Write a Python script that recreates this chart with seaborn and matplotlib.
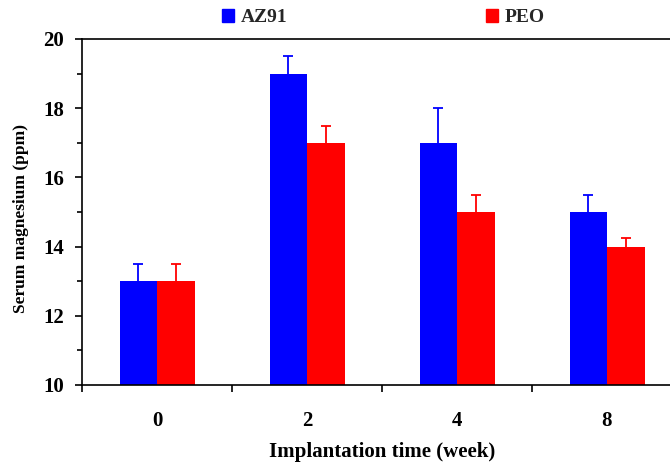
import pandas as pd
import numpy as np
import matplotlib
matplotlib.use("Agg")
import matplotlib.pyplot as plt
import matplotlib.patches as mpatches
from matplotlib.ticker import MultipleLocator, FixedLocator
import seaborn as sns

# ── data ──
weeks = ["0", "2", "4", "8"]
az91_mean = [13.0, 19.0, 17.0, 15.0]
az91_err = [0.5, 0.5, 1.0, 0.5]
peo_mean = [13.0, 17.0, 15.0, 14.0]
peo_err = [0.5, 0.5, 0.5, 0.25]
groups = ["AZ91", "PEO"]
colors = {"AZ91": "#0000FF", "PEO": "#FF0000"}

df = pd.DataFrame({
    "week": weeks * 2,
    "group": ["AZ91"] * len(weeks) + ["PEO"] * len(weeks),
    "mg": az91_mean + peo_mean,
})
errs = {"AZ91": az91_err, "PEO": peo_err}

sns.set_theme(style="white")
plt.rcParams["font.family"] = ["Liberation Serif", "DejaVu Serif"]
plt.rcParams["font.weight"] = "bold"

fig = plt.figure(figsize=(6.7, 4.66), dpi=100)
ax = fig.add_axes([82 / 670, 1 - 385 / 466, 600 / 670, 346 / 466])

sns.barplot(data=df, x="week", y="mg", hue="group", order=weeks,
            hue_order=groups, palette=colors, width=0.5, saturation=1,
            linewidth=0, legend=False, ax=ax)

# upward-only error bars in the bar colour (drop the lower cap)
for cont, g in zip(ax.containers, groups):
    xs = [p.get_x() + p.get_width() / 2 for p in cont.patches]
    ys = [p.get_height() + p.get_y() for p in cont.patches]
    e = errs[g]
    _, caps, _ = ax.errorbar(xs, ys, yerr=[np.zeros(len(e)), e], fmt="none",
                             ecolor=colors[g], elinewidth=1.3, capsize=3.8,
                             capthick=1.3)
    caps[0].set_visible(False)

ax.set_xlim(-0.5, 3.5)
ax.set_ylim(10, 20)
ax.yaxis.set_major_locator(MultipleLocator(2))
ax.yaxis.set_minor_locator(MultipleLocator(1))
ax.xaxis.set_minor_locator(FixedLocator(np.arange(-0.5, 4.0, 1.0)))

for s in ["left", "bottom", "top"]:
    ax.spines[s].set_visible(True)
    ax.spines[s].set_color("black")
    ax.spines[s].set_linewidth(1.2)
ax.spines["right"].set_visible(False)

ax.tick_params(axis="y", which="major", direction="out", length=5, width=1.2,
               color="black", left=True, pad=8, labelsize=15)
ax.tick_params(axis="y", which="minor", direction="out", length=3.5, width=1.2,
               color="black", left=True)
ax.tick_params(axis="x", which="major", length=0, pad=19, labelsize=15)
ax.tick_params(axis="x", which="minor", direction="out", length=5, width=1.2,
               color="black", bottom=True)

for lab in ax.get_xticklabels() + ax.get_yticklabels():
    lab.set_fontweight("bold")
    lab.set_color("black")

ax.set_xlabel("Implantation time (week)", fontsize=15, fontweight="bold",
              labelpad=8, color="black")
ax.set_ylabel("Serum magnesium (ppm)", fontsize=12.5, fontweight="bold",
              labelpad=12, color="black")
ax.yaxis.set_label_coords(-0.088, 0.48)
ax.grid(False)

handles = [mpatches.Patch(color=colors[g], label=g) for g in groups]
fig.legend(handles=handles, loc="upper left", bbox_to_anchor=(222 / 670, 1 - 9 / 466),
           ncol=2, frameon=False, handlelength=0.62, handleheight=0.62,
           handletextpad=0.35, columnspacing=10.2, borderpad=0, borderaxespad=0,
           prop={"family": "Liberation Serif", "weight": "bold", "size": 14})

fig.savefig("out.png", dpi=100)
